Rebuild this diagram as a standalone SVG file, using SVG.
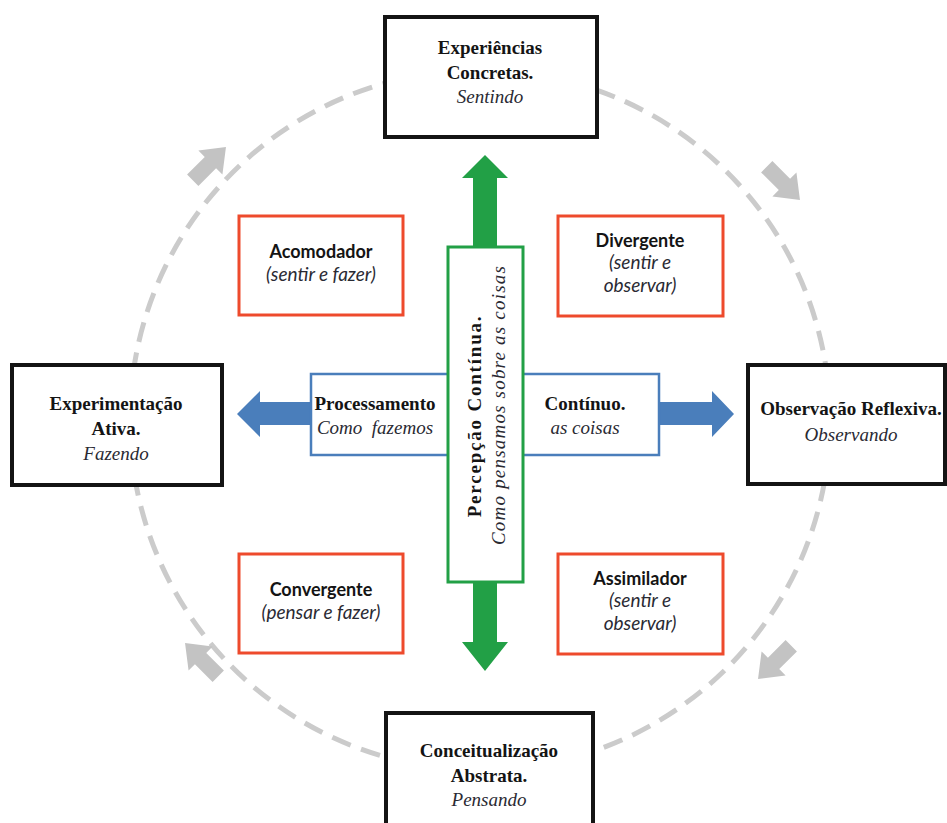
<svg xmlns="http://www.w3.org/2000/svg" width="947" height="823" viewBox="0 0 947 823">
  <defs>
    <style>
      .stage { fill: #ffffff; stroke: #141414; stroke-width: 4; }
      .style { fill: #ffffff; stroke: #ee4a2c; stroke-width: 3; }
      .serif { font-family: "Liberation Serif", "DejaVu Serif", serif; fill: #141414; font-size: 19px; }
      .sans { font-family: Lato, "Open Sans", "Liberation Sans", sans-serif; fill: #141414; font-size: 18px; }
      .b { font-weight: bold; }
      .i { font-style: italic; fill: #2a2a33; }
      .sans.i { font-size: 19px; }
      .cycle { fill: none; stroke: #cbcbcb; stroke-width: 5; stroke-dasharray: 20 11; }
      .turn { fill: #c3c3c3; }
    </style>
    <!-- block arrow pointing along +x, centred on the origin -->
    <polygon id="turnArrow" points="-23,-8 2,-8 2,-17 24,0 2,17 2,8 -23,8"/>
  </defs>

  <rect width="947" height="823" fill="#ffffff"/>

  <!-- learning cycle: dashed ring with direction arrows -->
  <g id="cycle">
    <circle class="cycle" cx="480" cy="420" r="350"/>
    <use href="#turnArrow" class="turn" transform="translate(209,164) rotate(-45)"/>
    <use href="#turnArrow" class="turn" transform="translate(783,183) rotate(45)"/>
    <use href="#turnArrow" class="turn" transform="translate(775,662) rotate(135)"/>
    <use href="#turnArrow" class="turn" transform="translate(202,660) rotate(225)"/>
  </g>

  <!-- axis arrows -->
  <g id="connectors">
    <polygon fill="#4a7ebb" points="310,402 260,402 260,391 237,414 260,437 260,425 310,425"/>
    <polygon fill="#4a7ebb" points="659,402 712,402 712,391 734,414 712,437 712,425 659,425"/>
    <polygon fill="#22a046" points="473,247 473,178 462,178 485,155 508,178 497,178 497,247"/>
    <polygon fill="#22a046" points="473,582 473,642 462,642 485,671 508,642 497,642 497,582"/>
  </g>

  <g id="processamento">
    <rect x="311" y="374" width="348" height="81" fill="#ffffff" stroke="#4a7ebb" stroke-width="2.5"/>
    <text class="serif b" x="375" y="410" font-size="19.5" text-anchor="middle">Processamento</text>
    <text class="serif i" x="375" y="434" font-size="19.5" text-anchor="middle" xml:space="preserve">Como  fazemos</text>
    <text class="serif b" x="585" y="410" font-size="19.5" text-anchor="middle">Contínuo.</text>
    <text class="serif i" x="585" y="434" font-size="19.5" text-anchor="middle">as coisas</text>
  </g>

  <g id="percepcao">
    <rect x="448" y="247" width="75" height="335" fill="#ffffff" stroke="#22a046" stroke-width="3"/>
    <text class="serif b" transform="translate(481,416) rotate(-90)" letter-spacing="1.8" text-anchor="middle">Percepção Contínua.</text>
    <text class="serif i" transform="translate(505,405) rotate(-90)" letter-spacing="1.2" text-anchor="middle">Como pensamos sobre as coisas</text>
  </g>

  <g id="experiencias">
    <rect class="stage" x="385" y="17" width="212" height="120"/>
    <text class="serif b" x="490" y="54" text-anchor="middle">Experiências</text>
    <text class="serif b" x="490" y="79" text-anchor="middle">Concretas.</text>
    <text class="serif i" x="490" y="103" text-anchor="middle">Sentindo</text>
  </g>

  <g id="experimentacao">
    <rect class="stage" x="12" y="365" width="210" height="120"/>
    <text class="serif b" x="116" y="410" text-anchor="middle">Experimentação</text>
    <text class="serif b" x="116" y="435" text-anchor="middle">Ativa.</text>
    <text class="serif i" x="116" y="460" text-anchor="middle">Fazendo</text>
  </g>

  <g id="observacao">
    <rect class="stage" x="748" y="365" width="197" height="119"/>
    <text class="serif b" x="851" y="415" text-anchor="middle">Observação Reflexiva.</text>
    <text class="serif i" x="851" y="441" text-anchor="middle">Observando</text>
  </g>

  <g id="conceituacao">
    <rect class="stage" x="386" y="713" width="207" height="125"/>
    <text class="serif b" x="489" y="757" text-anchor="middle">Conceitualização</text>
    <text class="serif b" x="489" y="782" text-anchor="middle">Abstrata.</text>
    <text class="serif i" x="489" y="806" text-anchor="middle">Pensando</text>
  </g>

  <g id="acomodador">
    <rect class="style" x="239" y="216" width="164" height="99"/>
    <text class="sans b" x="321" y="258" text-anchor="middle">Acomodador</text>
    <text class="sans i" x="321" y="281" text-anchor="middle">(sentir e fazer)</text>
  </g>

  <g id="divergente">
    <rect class="style" x="558" y="216" width="165" height="100"/>
    <text class="sans b" x="640" y="247" text-anchor="middle">Divergente</text>
    <text class="sans i" x="640" y="269" text-anchor="middle">(sentir e</text>
    <text class="sans i" x="640" y="292" text-anchor="middle">observar)</text>
  </g>

  <g id="convergente">
    <rect class="style" x="239" y="554" width="164" height="99"/>
    <text class="sans b" x="321" y="596" text-anchor="middle">Convergente</text>
    <text class="sans i" x="321" y="619" text-anchor="middle">(pensar e fazer)</text>
  </g>

  <g id="assimilador">
    <rect class="style" x="558" y="554" width="165" height="100"/>
    <text class="sans b" x="640" y="585" text-anchor="middle">Assimilador</text>
    <text class="sans i" x="640" y="607" text-anchor="middle">(sentir e</text>
    <text class="sans i" x="640" y="630" text-anchor="middle">observar)</text>
  </g>
</svg>
